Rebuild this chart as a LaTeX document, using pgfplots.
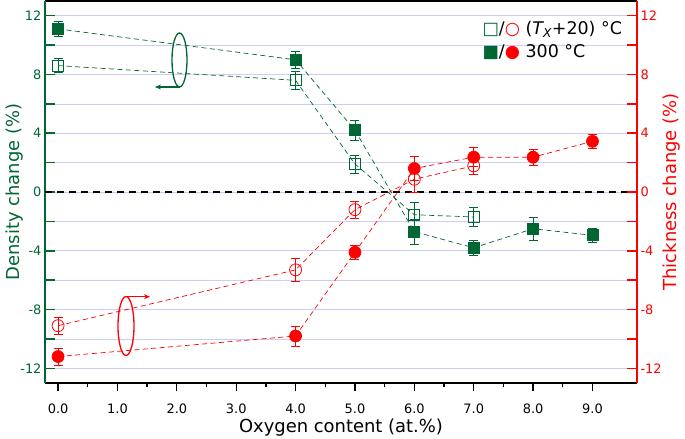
\documentclass[border=0pt]{standalone}
\usepackage{pgfplots}
\usepackage{pgfplotstable}
\pgfplotsset{compat=1.18}
\usetikzlibrary{arrows.meta}
\usepackage{fontspec}
\setmainfont{DejaVu Sans}
\definecolor{dg}{RGB}{0,102,51}
\definecolor{rd}{RGB}{255,0,0}
\definecolor{gridc}{RGB}{205,205,245}

\pgfplotstableread{
x y e
0 8.6 0.48
4 7.6 0.6
5 1.9 0.6
6 -1.55 0.83
7 -1.7 0.65
}\densOpen
\pgfplotstableread{
x y e
0 11.1 0.5
4 9.0 0.6
5 4.2 0.65
6 -2.7 0.84
7 -3.8 0.5
8 -2.5 0.8
9 -2.95 0.5
}\densFill
\pgfplotstableread{
x y e
0 -9.1 0.57
4 -5.3 0.8
5 -1.2 0.6
6 0.87 0.9
7 1.78 0.6
}\thkOpen
\pgfplotstableread{
x y e
0 -11.2 0.57
4 -9.8 0.68
5 -4.1 0.5
6 1.6 0.8
7 2.37 0.65
8 2.37 0.55
9 3.45 0.5
}\thkFill

\begin{document}
\begin{tikzpicture}[x=1bp,y=1bp]
\path[use as bounding box] (-45,-56) rectangle (640,383);
\pgfplotsset{
 base/.style={scale only axis, width=592bp, height=382bp,
   xmin=-0.22, xmax=9.75, ymin=-13, ymax=13,
   /pgf/number format/assume math mode=true,
   tick label style={font=\fontsize{13}{15}\selectfont},
   label style={font=\fontsize{18}{22}\selectfont}},
 errs/.style={error bars/y dir=both, error bars/y explicit,
   error bars/error bar style={solid, line width=0.6bp},
   error bars/error mark options={solid, rotate=90, mark size=4.5bp, line width=0.6bp}},
}
% x axis
\begin{axis}[base, axis x line=bottom, axis y line=none,
  x axis line style={-, line width=1.6bp},
  xtick={0,...,9}, xticklabels={0.0,1.0,2.0,3.0,4.0,5.0,6.0,7.0,8.0,9.0},
  minor x tick num=1, tick align=outside,
  major tick length=8bp, minor tick length=4.5bp,
  xtick style={line width=1.3bp, black},
  xticklabel style={yshift=-9bp},
  xlabel={Oxygen content (at.\%)}, xlabel style={yshift=1bp},
  ytick=\empty]
\draw[line width=2.5bp] (rel axis cs:0,1) -- (rel axis cs:1,1);
\end{axis}
% left axis: density
\begin{axis}[base, axis y line=left, axis x line=none,
  y axis line style={-, dg, line width=1.8bp},
  ytick={-12,-8,...,12}, minor ytick={-10,-6,...,10},
  tick align=inside, major tick length=10bp, minor tick length=10bp,
  ytick style={dg, line width=1.5bp}, yticklabel style={dg},
  ylabel={Density change (\%)},
  ylabel style={dg, font=\fontsize{18}{22}\selectfont,
    at={(axis description cs:-0.0507,0.5)}, anchor=center},
  ymajorgrids, yminorgrids,
  major grid style={gridc, line width=0.6bp},
  minor grid style={gridc, line width=0.6bp},
  xtick=\empty]
\draw[line width=2bp, dash pattern=on 7bp off 5bp] (axis cs:-0.22,0) -- (axis cs:9.75,0);
\addplot[dg, line width=0.7bp, dash pattern=on 5bp off 3.5bp,
  mark=square, mark size=5.5bp, mark options={solid, line width=0.8bp, fill=none}, errs]
  table[x=x, y=y, y error=e] {\densOpen};
\addplot[dg, line width=0.7bp, dash pattern=on 5bp off 3.5bp,
  mark=square*, mark size=5.5bp, mark options={solid, fill=dg}, errs]
  table[x=x, y=y, y error=e] {\densFill};
\end{axis}
% right axis: thickness
\begin{axis}[base, axis y line=right, axis x line=none,
  y axis line style={-, rd, line width=1.8bp},
  ytick={-12,-8,...,12}, minor ytick={-10,-6,...,10},
  tick align=inside, major tick length=10bp, minor tick length=10bp,
  ytick style={rd, line width=1.5bp}, yticklabel style={rd},
  ylabel={Thickness change (\%)},
  ylabel style={rd, font=\fontsize{18}{22}\selectfont,
    at={(axis description cs:1.0591,0.5)}, anchor=center},
  xtick=\empty]
\addplot[rd, line width=0.7bp, dash pattern=on 5bp off 3.5bp,
  mark=o, mark size=6bp, mark options={solid, line width=0.8bp, fill=none}, errs]
  table[x=x, y=y, y error=e] {\thkOpen};
\addplot[rd, line width=0.7bp, dash pattern=on 5bp off 3.5bp,
  mark=*, mark size=6bp, mark options={solid, fill=rd}, errs]
  table[x=x, y=y, y error=e] {\thkFill};
\end{axis}
% legend
\node[anchor=west, font=\fontsize{17.5}{21}\selectfont] at (434,354)
  {{\color{dg}□}/{\color{rd}○} ({\itshape T\textsubscript{X}}+20) °C};
\node[anchor=west, font=\fontsize{17.5}{21}\selectfont] at (434,331)
  {{\color{dg}■}/{\color{rd}●} 300 °C};
% annotations
\draw[dg, line width=1.3bp] (134.5,323) ellipse [x radius=7.5bp, y radius=27bp];
\draw[dg, line width=1.3bp, -{Stealth[length=6bp,width=5bp]}] (135,296) -- (110,296);
\draw[rd, line width=1.3bp] (81,57) ellipse [x radius=8bp, y radius=29.5bp];
\draw[rd, line width=1.3bp, -{Stealth[length=6bp,width=5bp]}] (80,86.3) -- (105,86.3);
\end{tikzpicture}
\end{document}
